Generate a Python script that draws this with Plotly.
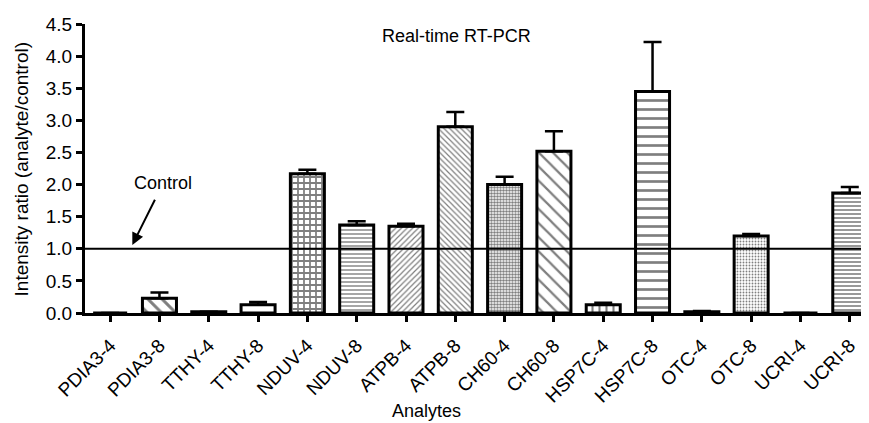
import plotly.graph_objects as go

# ---- data ----
analytes = ["PDIA3-4", "PDIA3-8", "TTHY-4", "TTHY-8", "NDUV-4", "NDUV-8",
            "ATPB-4", "ATPB-8", "CH60-4", "CH60-8", "HSP7C-4", "HSP7C-8",
            "OTC-4", "OTC-8", "UCRI-4", "UCRI-8"]
ratio = [0.0, 0.23, 0.02, 0.13, 2.17, 1.37,
         1.35, 2.90, 2.00, 2.52, 0.13, 3.45,
         0.02, 1.20, 0.0, 1.87]
err_up = [0.0, 0.09, 0.0, 0.04, 0.06, 0.06,
          0.04, 0.23, 0.12, 0.31, 0.03, 0.77,
          0.01, 0.03, 0.0, 0.09]
control_level = 1.0
y_ticks = [0.0, 0.5, 1.0, 1.5, 2.0, 2.5, 3.0, 3.5, 4.0, 4.5]

# ---- styles (per bar fill pattern) ----
pat_shape = ["", "\\", "", "", "+", "-",
             "/", "\\", ".", "\\", "|", "-",
             "", ".", "", "-"]
pat_size = [6, 10, 6, 6, 6, 4,
            4, 4, 3, 10, 7, 9,
            6, 3, 6, 4]
pat_solid = [0.3, 0.3, 0.3, 0.3, 0.5, 0.35,
             0.3, 0.3, 0.55, 0.22, 0.3, 0.3,
             0.3, 0.3, 0.3, 0.4]

FONT = "Liberation Sans, Arial, Helvetica, sans-serif"

fig = go.Figure()
fig.add_trace(go.Bar(
    x=analytes, y=ratio, width=0.69,
    marker=dict(
        color="white",
        line=dict(color="black", width=3),
        pattern=dict(shape=pat_shape, size=pat_size, solidity=pat_solid,
                     fgcolor="black", bgcolor="white", fillmode="overlay"),
    ),
    error_y=dict(type="data", symmetric=False, array=err_up,
                 arrayminus=[0] * len(err_up),
                 color="black", thickness=2.5, width=9),
    showlegend=False,
))

fig.add_shape(type="line", xref="paper", x0=0, x1=1, yref="y",
              y0=control_level, y1=control_level,
              line=dict(color="black", width=2), layer="above")

fig.add_annotation(x=0.45, y=1.06, xref="x", yref="y", text="Control",
                   showarrow=True, arrowhead=2, arrowsize=1.2, arrowwidth=2,
                   arrowcolor="black", ax=31, ay=-62, startstandoff=6,
                   font=dict(family=FONT, size=18, color="black"))

fig.add_annotation(x=0.474, y=0.958, xref="paper", yref="paper",
                   text="Real-time RT-PCR", showarrow=False,
                   xanchor="center", yanchor="middle",
                   font=dict(family=FONT, size=18, color="black"))

fig.add_annotation(x=0.436, y=-0.34, xref="paper", yref="paper",
                   text="Analytes", showarrow=False,
                   xanchor="center", yanchor="middle",
                   font=dict(family=FONT, size=18, color="black"))

fig.add_annotation(x=-0.0804, y=0.5, xref="paper", yref="paper",
                   text="Intensity ratio (analyte/control)", showarrow=False,
                   textangle=-90, xanchor="center", yanchor="middle",
                   font=dict(family=FONT, size=19, color="black"))

# page body adds an 8px offset; figure sized so the plot lands where the reference has it
fig.update_layout(
    width=861, height=415,
    margin=dict(l=77, r=0, t=16, b=110),
    paper_bgcolor="white", plot_bgcolor="white",
    font=dict(family=FONT, size=18, color="black"),
)
fig.update_xaxes(
    range=[-0.51, 15.39], showline=True, linecolor="black", linewidth=3,
    ticks="outside", ticklen=6, tickwidth=2.5, tickcolor="black",
    tickangle=-45, showgrid=False, zeroline=False, automargin=False,
    ticklabelstandoff=5,
    tickfont=dict(family=FONT, size=19, color="black"),
)
fig.update_yaxes(
    range=[0, 4.5], tickvals=y_ticks, tickformat=".1f",
    showline=True, linecolor="black", linewidth=3,
    ticks="outside", ticklen=6, tickwidth=2.5, tickcolor="black",
    showgrid=False, zeroline=False, automargin=False,
    tickfont=dict(family=FONT, size=19, color="black"),
)

fig.write_html("out.html")
